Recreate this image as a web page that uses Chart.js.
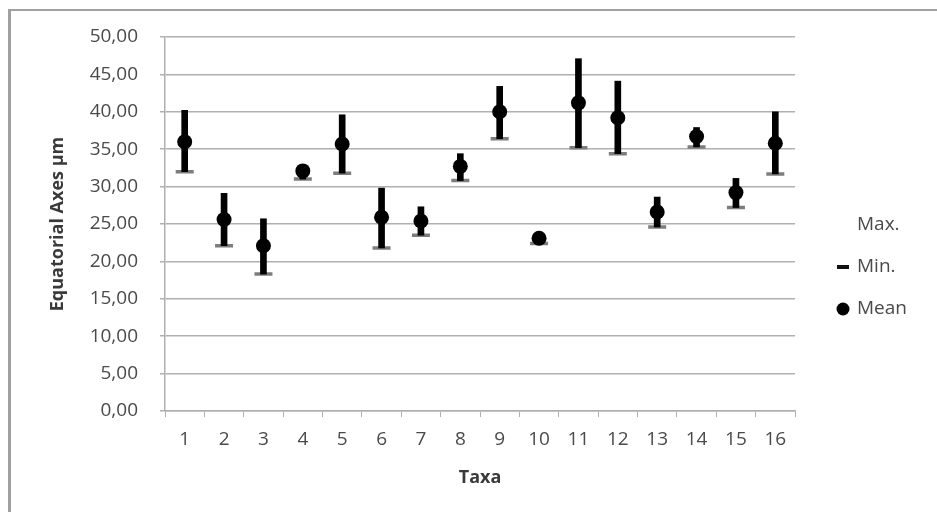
<!DOCTYPE html>
<html>
<head>
<meta charset="utf-8">
<script src="https://cdn.jsdelivr.net/npm/chart.js@4.4.0/dist/chart.umd.min.js"></script>
<style>
  html, body { margin: 0; padding: 0; background: #fff; }
  #wrap { position: relative; width: 937px; height: 512px; overflow: hidden; }
  #frame {
    position: absolute; left: 8px; top: 9px; width: 960px; height: 540px;
    border-top: 2px solid #a0a0a0; border-left: 3px solid #a0a0a0;
    pointer-events: none;
  }
</style>
</head>
<body>
<div id="wrap">
  <canvas id="myChart" width="937" height="512"></canvas>
  <div id="frame"></div>
</div>
<script>
  // Taxa 1..16
  var taxa = ['1', '2', '3', '4', '5', '6', '7', '8', '9', '10', '11', '12', '13', '14', '15', '16']
  var maxVals = [40.2, 29.1, 25.7, 32.8, 39.6, 29.8, 27.3, 34.4, 43.4, 23.6, 47.1, 44.1, 28.6, 37.9, 31.1, 40.0]
  var minVals = [32.0, 22.1, 18.3, 31.0, 31.8, 21.8, 23.5, 30.8, 36.4, 22.4, 35.2, 34.4, 24.6, 35.3, 27.2, 31.7]
  var meanVals = [36.0, 25.6, 22.1, 32.1, 35.7, 25.9, 25.4, 32.7, 40.0, 23.1, 41.2, 39.2, 26.6, 36.7, 29.2, 35.8]

  var fontFamily = '"Open Sans", "DejaVu Sans", sans-serif'
  var textColor = '#4a4a4a'
  var gridColor = '#b0b0b0'

  // high-low lines, built from min / max
  var ranges = minVals.map(function (v, i) { return [v, maxVals[i]] })

  // excel-like legend on the right, drawn from the datasets
  var sideLegend = {
    id: 'sideLegend',
    afterDraw: function (chart) {
      var ctx = chart.ctx
      var items = chart.data.datasets.filter(function (d) { return d.inLegend })
      ctx.save()
      items.forEach(function (d, i) {
        var y = 225 + i * 42
        if (d.pointRadius > 0) {
          ctx.fillStyle = d.legendColor
          ctx.strokeStyle = d.legendColor
          ctx.lineWidth = d.legendWidth
          Chart.helpers.drawPoint(ctx, {
            pointStyle: d.pointStyle,
            radius: d.legendRadius,
            borderWidth: d.legendWidth
          }, 843, y)
        }
        ctx.fillStyle = textColor
        ctx.font = '19px ' + fontFamily
        ctx.textAlign = 'left'
        ctx.textBaseline = 'middle'
        ctx.fillText(d.label, 857, y)
      })
      ctx.restore()
    }
  }

  var ctx = document.getElementById('myChart')
  // eslint-disable-next-line no-unused-vars
  var myChart = new Chart(ctx, {
    type: 'bar',
    data: {
      labels: taxa,
      datasets: [{
        type: 'line',
        label: 'Max.',
        inLegend: true,
        data: maxVals,
        showLine: false,
        pointRadius: 0,
        order: 3
      }, {
        type: 'line',
        label: 'Min.',
        inLegend: true,
        data: minVals,
        showLine: false,
        pointStyle: 'line',
        pointRadius: 9,
        pointBorderWidth: 3.5,
        pointBorderColor: '#7d7d7d',
        pointBackgroundColor: '#7d7d7d',
        legendRadius: 6,
        legendWidth: 4,
        legendColor: '#111',
        order: 2
      }, {
        type: 'line',
        label: 'Mean',
        inLegend: true,
        data: meanVals,
        showLine: false,
        pointStyle: 'circle',
        pointRadius: 7.5,
        pointBorderWidth: 0,
        pointBorderColor: '#000',
        pointBackgroundColor: '#000',
        legendRadius: 6.5,
        legendWidth: 0,
        legendColor: '#000',
        order: 0
      }, {
        label: 'range',
        data: ranges,
        backgroundColor: '#000',
        barThickness: 6,
        order: 1
      }]
    },
    options: {
      responsive: false,
      animation: false,
      layout: {
        padding: { left: 47, top: 37, right: 142, bottom: 23 }
      },
      plugins: {
        legend: { display: false },
        tooltip: { enabled: false }
      },
      scales: {
        x: {
          offset: true,
          grid: {
            offset: true,
            drawOnChartArea: false,
            drawTicks: true,
            tickLength: 6,
            color: gridColor
          },
          border: { color: gridColor, width: 1.5 },
          ticks: {
            color: textColor,
            padding: 11,
            font: { family: fontFamily, size: 19 }
          },
          title: {
            display: true,
            text: 'Taxa',
            color: '#3a3a3a',
            padding: 0,
            font: { family: fontFamily, size: 18, weight: 'bold' }
          },
          afterFit: function (scale) { scale.height = 78 }
        },
        y: {
          min: 0,
          max: 50,
          grid: {
            color: gridColor,
            lineWidth: 1.5,
            tickLength: 5
          },
          border: { color: gridColor, width: 1.5 },
          ticks: {
            stepSize: 5,
            color: textColor,
            padding: 22,
            font: { family: fontFamily, size: 19 },
            callback: function (v) { return v.toFixed(2).replace('.', ',') }
          },
          title: {
            display: true,
            text: 'Equatorial Axes µm',
            color: '#3a3a3a',
            padding: 0,
            font: { family: fontFamily, size: 18, weight: 'bold' }
          },
          afterFit: function (scale) { scale.width = 118 }
        }
      }
    },
    plugins: [sideLegend]
  })
</script>
</body>
</html>
